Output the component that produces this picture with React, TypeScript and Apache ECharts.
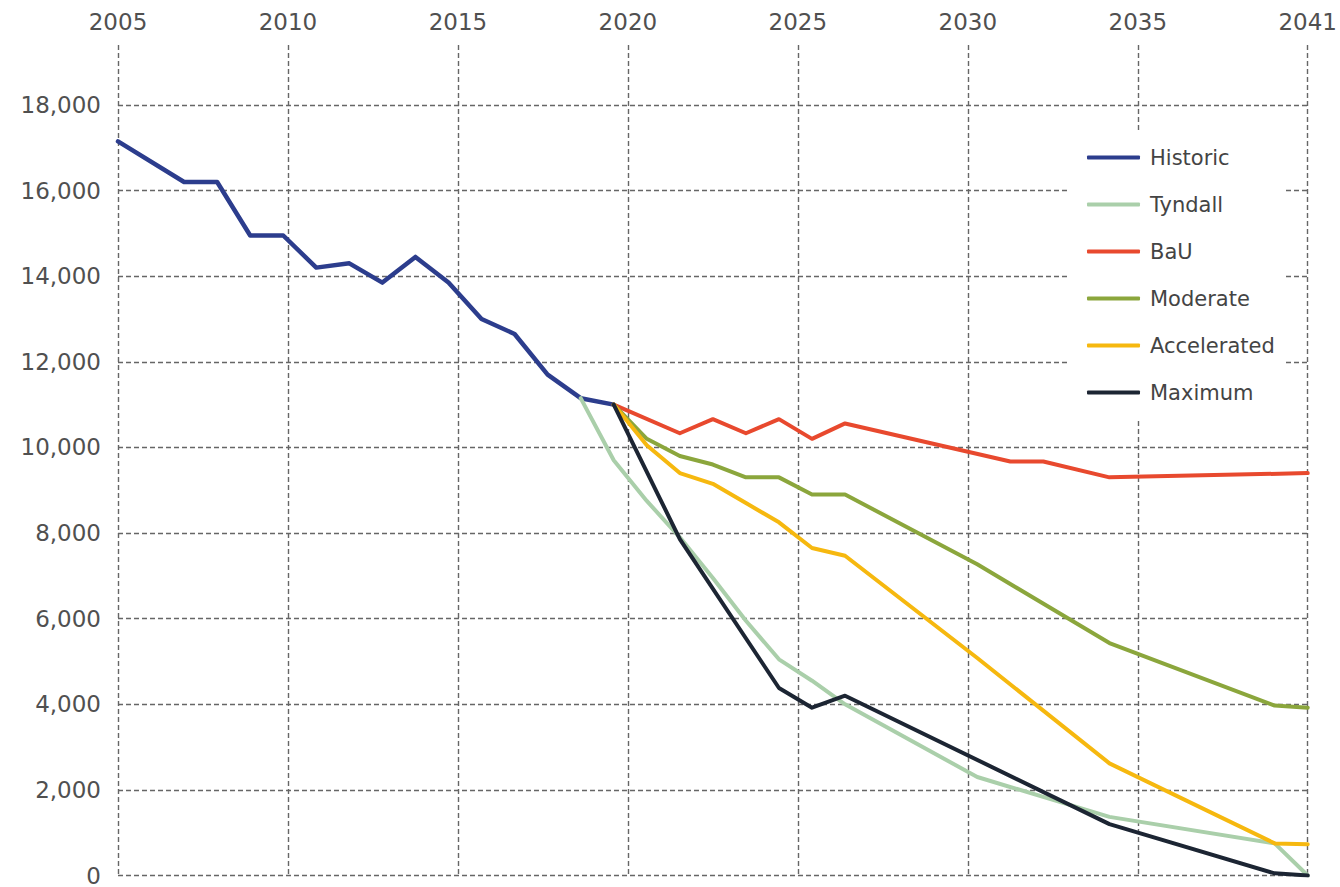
import React, { useEffect, useRef } from "react";
import * as echarts from "echarts";

// ---- data ----
const START_YEAR = 2005;
const END_YEAR = 2041;
const X_SPLITS = 7; // 8 evenly spaced labelled grid lines across 2005..2041

const yTicks = [0, 2000, 4000, 6000, 8000, 10000, 12000, 14000, 16000, 18000];

const seriesNames = ["Historic", "Tyndall", "BaU", "Moderate", "Accelerated", "Maximum"];

const historicYears = [2005, 2007, 2008, 2009, 2010, 2011, 2012, 2013, 2014, 2015, 2016, 2017, 2018, 2019, 2020];
const historicValues = [17150, 16200, 16200, 14950, 14950, 14200, 14300, 13850, 14450, 13850, 13000, 12650, 11700, 11150, 11000];

const tyndallYears = [2019, 2020, 2021, 2022, 2023, 2024, 2025, 2026, 2027, 2031, 2035, 2040, 2041];
const tyndallValues = [11150, 9700, 8750, 7900, 6950, 5950, 5050, 4550, 4000, 2300, 1370, 750, 0];

const bauYears = [2020, 2022, 2023, 2024, 2025, 2026, 2027, 2032, 2033, 2035, 2041];
const bauValues = [11000, 10330, 10660, 10330, 10660, 10200, 10560, 9670, 9670, 9300, 9400];

const moderateYears = [2020, 2021, 2022, 2023, 2024, 2025, 2026, 2027, 2031, 2035, 2040, 2041];
const moderateValues = [11000, 10200, 9800, 9600, 9300, 9300, 8900, 8900, 7270, 5430, 3970, 3920];

const acceleratedYears = [2020, 2021, 2022, 2023, 2024, 2025, 2026, 2027, 2031, 2035, 2040, 2041];
const acceleratedValues = [11000, 10050, 9400, 9150, 8700, 8250, 7650, 7470, 5080, 2620, 750, 730];

const maximumYears = [2020, 2022, 2025, 2026, 2027, 2035, 2040, 2041];
const maximumValues = [11000, 7860, 4380, 3920, 4200, 1200, 50, 0];

const seriesColors = ["#2c3d8d", "#aacfaa", "#e8492e", "#8ba63c", "#f6b80f", "#1c2533"];
const seriesWidths = [4.5, 4, 4, 4, 4, 4];

// ---- helpers ----
const span = END_YEAR - START_YEAR;
const toX = (year: number) => (year - START_YEAR) * X_SPLITS;
const pairs = (years: number[], values: number[]) => years.map((y, i) => [toX(y), values[i]]);
const withCommas = (v: number) => String(v).replace(/\B(?=(\d{3})+(?!\d))/g, ",");

const FONT = "DejaVu Sans";

export default function App() {
  const ref = useRef<HTMLDivElement>(null);

  useEffect(() => {
    if (!ref.current) return;
    const chart = echarts.init(ref.current, undefined, { renderer: "svg" });

    const allData = [
      pairs(historicYears, historicValues),
      pairs(tyndallYears, tyndallValues),
      pairs(bauYears, bauValues),
      pairs(moderateYears, moderateValues),
      pairs(acceleratedYears, acceleratedValues),
      pairs(maximumYears, maximumValues),
    ];

    const gridStyle = { type: [5, 3] as number[], color: "#666", width: 1.4 };

    chart.setOption({
      animation: false,
      backgroundColor: "#ffffff",
      grid: { left: 118, right: 30, top: 45, bottom: 4.5, containLabel: false },
      xAxis: {
        type: "value",
        position: "top",
        min: 0,
        max: span * X_SPLITS,
        interval: span,
        axisLine: { show: false },
        axisTick: { show: false },
        axisLabel: {
          margin: 12,
          color: "#505050",
          fontSize: 23,
          fontFamily: FONT,
          formatter: (v: number) => String(Math.floor(START_YEAR + v / X_SPLITS + 1e-6)),
        },
        splitLine: { show: true, lineStyle: gridStyle },
      },
      yAxis: {
        type: "value",
        min: yTicks[0],
        max: 19400,
        interval: yTicks[1] - yTicks[0],
        axisLine: { show: false },
        axisTick: { show: false },
        axisLabel: {
          margin: 17,
          color: "#505050",
          fontSize: 23,
          fontFamily: FONT,
          showMaxLabel: false,
          formatter: (v: number) => (yTicks.includes(v) ? withCommas(v) : ""),
        },
        splitLine: { show: true, showMaxLine: false, lineStyle: gridStyle },
      },
      legend: {
        orient: "vertical",
        left: 1070,
        top: 130,
        padding: [17, 9, 17, 17],
        backgroundColor: "#ffffff",
        icon: "roundRect",
        itemWidth: 53,
        itemHeight: 4,
        itemGap: 26,
        data: seriesNames,
        textStyle: { color: "#444", fontSize: 21, fontFamily: FONT, padding: [0, 0, 0, 5] },
      },
      series: seriesNames.map((name, i) => ({
        name,
        type: "line",
        data: allData[i],
        symbol: "none",
        showSymbol: false,
        smooth: false,
        lineStyle: { color: seriesColors[i], width: seriesWidths[i], cap: "round", join: "round" },
        itemStyle: { color: seriesColors[i] },
        z: 2 + i,
      })),
    });

    return () => chart.dispose();
  }, []);

  return (
    <div
      ref={ref}
      style={{ position: "fixed", left: 0, top: 0, width: 1340, height: 887, background: "#fff" }}
    />
  );
}
